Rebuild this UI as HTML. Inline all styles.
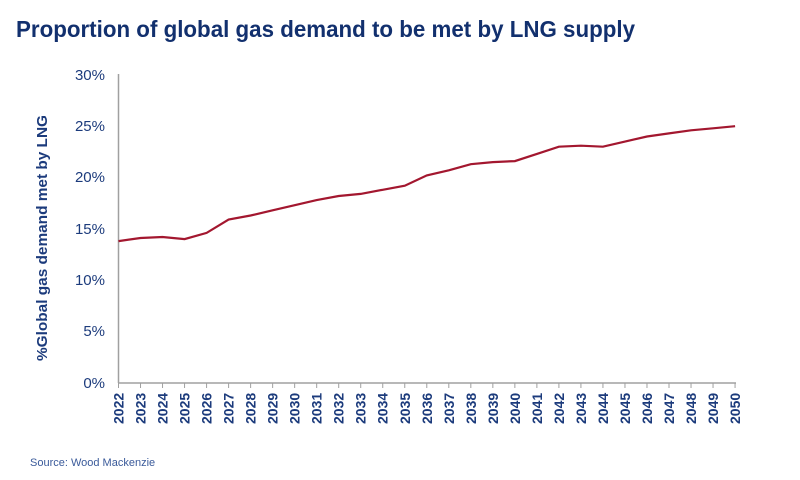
<!DOCTYPE html>
<html><head><meta charset="utf-8"><style>
body{margin:0;background:#fff;}
svg{display:block;font-family:"Liberation Sans",sans-serif;}
</style></head><body>
<svg width="800" height="480" viewBox="0 0 800 480">
<text x="16" y="37" font-size="23" font-weight="bold" fill="#12306e" textLength="619" lengthAdjust="spacingAndGlyphs">Proportion of global gas demand to be met by LNG supply</text>
<g fill="#1c3b7c" font-size="15" text-anchor="end">
<text x="105" y="80">30%</text>
<text x="105" y="131">25%</text>
<text x="105" y="182">20%</text>
<text x="105" y="234">15%</text>
<text x="105" y="285">10%</text>
<text x="105" y="336">5%</text>
<text x="105" y="388">0%</text>
</g>
<text transform="translate(47,238) rotate(-90)" text-anchor="middle" font-size="15" font-weight="bold" fill="#1c3b7c" textLength="246" lengthAdjust="spacingAndGlyphs">%Global gas demand met by LNG</text>
<line x1="118.5" y1="74" x2="118.5" y2="383" stroke="#a0a0a0" stroke-width="1.5"/>
<line x1="118" y1="383" x2="736" y2="383" stroke="#a0a0a0" stroke-width="1.5"/>
<g id="ticks" stroke="#a0a0a0" stroke-width="1"></g>
<g id="labels" fill="#1c3b7c" font-size="14" font-weight="bold"></g>
<polyline id="line" fill="none" stroke="#a3172f" stroke-width="2.2" points=""/>
<text x="30" y="466" font-size="11" fill="#3a5a9a">Source: Wood Mackenzie</text>
<script>
var d=[13.8,14.1,14.2,14.0,14.6,15.9,16.3,16.8,17.3,17.8,18.2,18.4,18.8,19.2,20.2,20.7,21.3,21.5,21.6,22.3,23.0,23.1,23.0,23.5,24.0,24.3,24.6,24.8,25.0];
var ns="http://www.w3.org/2000/svg",pts=[],t=document.getElementById('ticks'),l=document.getElementById('labels');
for(var i=0;i<=28;i++){var x=118.5+i*22.02;pts.push(x.toFixed(1)+','+(382.7-d[i]*10.26).toFixed(1));
var ln=document.createElementNS(ns,'line');ln.setAttribute('x1',x);ln.setAttribute('x2',x);ln.setAttribute('y1',383);ln.setAttribute('y2',388);t.appendChild(ln);
var tx=document.createElementNS(ns,'text');tx.setAttribute('transform','translate('+(x+5)+',424) rotate(-90)');tx.textContent=2022+i;l.appendChild(tx);}
document.getElementById('line').setAttribute('points',pts.join(' '));
</script>
</svg>
</body></html>
